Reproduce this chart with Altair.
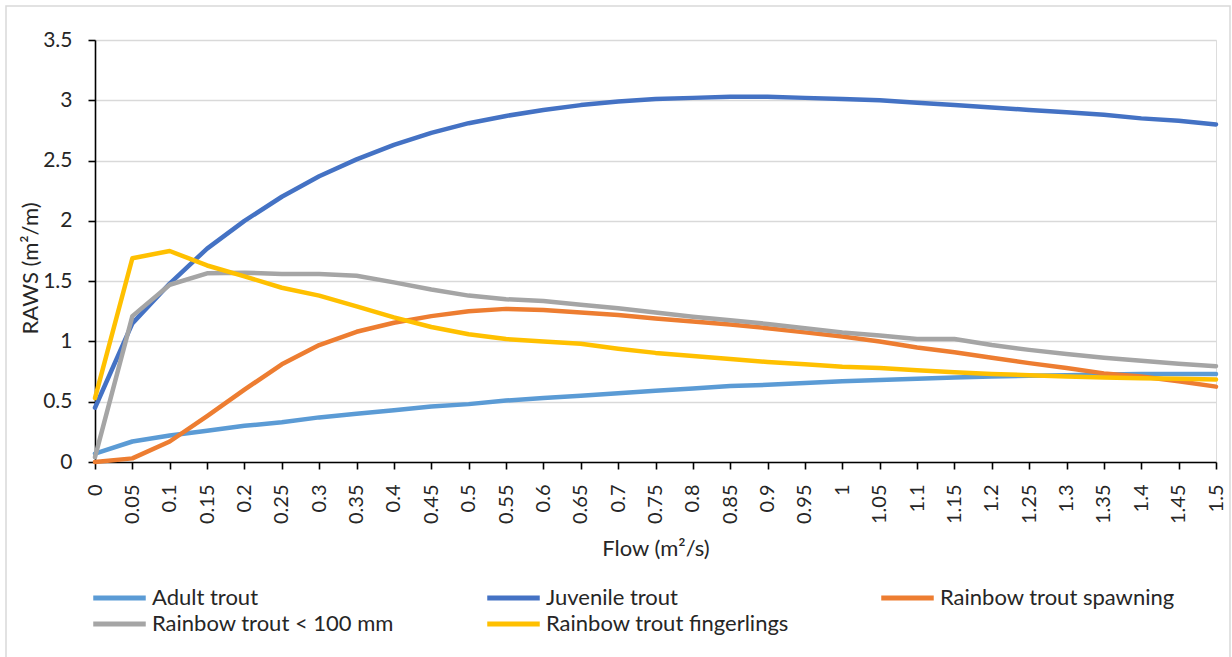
import altair as alt
import pandas as pd

# Flow steps (m²/s)
flow = [0, 0.05, 0.1, 0.15, 0.2, 0.25, 0.3, 0.35, 0.4, 0.45, 0.5, 0.55, 0.6, 0.65,
        0.7, 0.75, 0.8, 0.85, 0.9, 0.95, 1, 1.05, 1.1, 1.15, 1.2, 1.25, 1.3, 1.35,
        1.4, 1.45, 1.5]

# RAWS (m²/m) per life stage
adult_trout = [0.07, 0.17, 0.22, 0.26, 0.30, 0.33, 0.37, 0.40, 0.43, 0.46, 0.48,
               0.51, 0.53, 0.55, 0.57, 0.59, 0.61, 0.63, 0.64, 0.655, 0.67, 0.68,
               0.69, 0.70, 0.71, 0.715, 0.72, 0.725, 0.73, 0.73, 0.73]
juvenile_trout = [0.45, 1.15, 1.48, 1.77, 2.0, 2.2, 2.37, 2.51, 2.63, 2.73, 2.81,
                  2.87, 2.92, 2.96, 2.99, 3.01, 3.02, 3.03, 3.03, 3.02, 3.01, 3.0,
                  2.98, 2.96, 2.94, 2.92, 2.9, 2.88, 2.85, 2.83, 2.8]
rainbow_spawning = [0, 0.03, 0.17, 0.38, 0.60, 0.81, 0.97, 1.08, 1.155, 1.21, 1.25,
                    1.27, 1.26, 1.24, 1.22, 1.19, 1.165, 1.14, 1.11, 1.075, 1.04, 1.0,
                    0.95, 0.91, 0.865, 0.82, 0.78, 0.735, 0.71, 0.67, 0.625]
rainbow_under_100 = [0.04, 1.21, 1.47, 1.565, 1.57, 1.56, 1.56, 1.545, 1.49, 1.43, 1.38,
                     1.35, 1.335, 1.305, 1.275, 1.24, 1.205, 1.175, 1.145, 1.11, 1.075,
                     1.05, 1.02, 1.02, 0.97, 0.93, 0.895, 0.865, 0.84, 0.815, 0.795]
rainbow_fingerlings = [0.53, 1.69, 1.75, 1.63, 1.54, 1.445, 1.38, 1.29, 1.2, 1.12, 1.06,
                       1.02, 1.0, 0.98, 0.94, 0.905, 0.88, 0.855, 0.83, 0.81, 0.79,
                       0.78, 0.76, 0.745, 0.73, 0.72, 0.71, 0.70, 0.695, 0.69, 0.685]

series_names = ["Adult trout", "Juvenile trout", "Rainbow trout spawning",
                "Rainbow trout < 100 mm", "Rainbow trout fingerlings"]
series_values = [adult_trout, juvenile_trout, rainbow_spawning,
                 rainbow_under_100, rainbow_fingerlings]
series_colors = ["#5B9BD5", "#4472C4", "#ED7D31", "#A5A5A5", "#FFC000"]

y_ticks = [0, 0.5, 1, 1.5, 2, 2.5, 3, 3.5]

rows = []
for order, (name, vals) in enumerate(zip(series_names, series_values)):
    for f, v in zip(flow, vals):
        rows.append({"Flow": f, "RAWS": v, "Series": name, "order": order})
df = pd.DataFrame(rows)

FONT = "Lato"
TEXT = "#262626"

lines = alt.Chart(df).mark_line(
    strokeWidth=4.5, strokeJoin="round", strokeCap="round"
).encode(
    x=alt.X(
        "Flow:Q",
        scale=alt.Scale(domain=[0, 1.5], nice=False, zero=True),
        axis=alt.Axis(
            values=flow, format="~g", labelAngle=-90, labelFontSize=20,
            labelPadding=15, labelColor=TEXT, grid=False,
            domainColor="#000000", domainWidth=1.6, tickColor="#000000",
            tickWidth=1.6, tickSize=7, title="Flow (m²/s)", titleFontSize=22,
            titleFontWeight="normal", titleColor=TEXT,
            titleY=86, titleBaseline="middle", labelFlush=False,
        ),
    ),
    y=alt.Y(
        "RAWS:Q",
        scale=alt.Scale(domain=[0, 3.5], nice=False),
        axis=alt.Axis(
            values=y_ticks, format="~g", labelFontSize=21, labelPadding=16,
            labelColor=TEXT, gridColor="#D9D9D9", gridWidth=1.6,
            domainColor="#000000", domainWidth=1.6, tickColor="#000000",
            tickWidth=1.6, tickSize=7, title="RAWS (m²/m)", titleFontSize=22,
            titleFontWeight="normal", titleColor=TEXT,
            titleX=-65, titleY=228, titleAngle=-90, titleBaseline="middle",
            titleAlign="center",
        ),
    ),
    color=alt.Color(
        "Series:N",
        scale=alt.Scale(domain=series_names, range=series_colors),
        legend=alt.Legend(
            title=None, orient="none", legendX=11.5, legendY=545, columns=3,
            direction="horizontal",
            # wide horizontal stroke drawn from a compact symbol footprint
            symbolType="M-2.5,0H2.5", symbolSize=441, symbolStrokeWidth=5,
            symbolFillColor="transparent",
            labelFontSize=22, labelColor=TEXT, labelLimit=400,
            gridAlign="all", columnPadding=81, rowPadding=2, padding=0,
            labelOffset=19.5,
        ),
    ),
    order=alt.Order("order:Q"),
    detail="Series:N",
)

# Light frame around the whole figure
frame = alt.Chart(pd.DataFrame({"k": [0]})).mark_rect(
    fill=None, stroke="#D9D9D9", strokeWidth=1.5
).encode(
    x=alt.value(-89), x2=alt.value(1135), y=alt.value(-34), y2=alt.value(700)
)

chart = alt.layer(frame, lines).properties(
    width=1121, height=422,
    padding={"left": 95, "top": 40, "right": 16, "bottom": 195},
    autosize=alt.AutoSizeParams(type="none"),
    background="white",
).configure_view(stroke=None).configure(font=FONT)

chart.save("out.html", embed_options={"renderer": "svg", "actions": False})
